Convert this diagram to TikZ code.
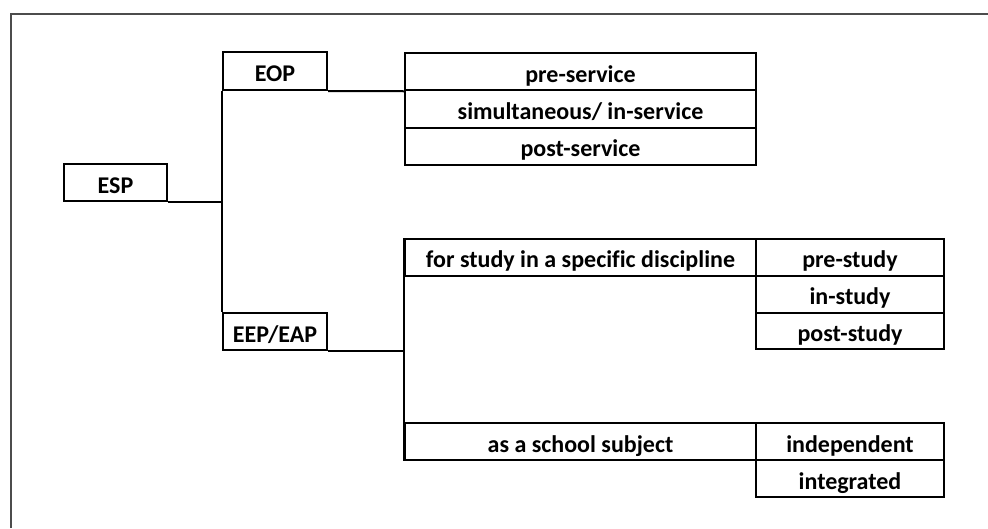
\documentclass[tikz,border=0pt]{standalone}
\usepackage{fontspec}
\setmainfont[Ligatures=NoCommon]{Carlito}
\begin{document}
\begin{tikzpicture}[x=1pt,y=-1pt,
  box/.style={draw=black,line width=2pt,inner sep=0pt,minimum height=37pt,
    text height=21pt,text depth=0pt,font=\fontsize{24}{26}\selectfont\bfseries},
  link/.style={draw=black,line width=2pt}]
\useasboundingbox (0,0) rectangle (988,528);
\draw[line width=2pt,draw=black!70] (11,528) -- (11,14) -- (988,14);
% level 1
\node[box,minimum width=103pt] (esp) at (115.5,182.5) {ESP};
% level 2
\node[box,minimum width=104pt,minimum height=38pt] (eop) at (275,71) {EOP};
\node[box,minimum width=104pt] (eep) at (275,331.5) {EEP/EAP};
% EOP children
\node[box,minimum width=351pt,minimum height=37.3pt] (pre) at (580.5,71.6) {pre-service};
\node[box,minimum width=351pt,minimum height=37.3pt] (sim) at (580.5,108.9) {simultaneous/ in-service};
\node[box,minimum width=351pt,minimum height=37.3pt] (pos) at (580.5,146.2) {post-service};
% EEP children
\node[box,minimum width=351pt,minimum height=36.8pt] (stu) at (580.5,257.4) {for study in a specific discipline};
\node[box,minimum width=188pt,minimum height=36.8pt] (prs) at (850,257.4) {pre-study};
\node[box,minimum width=188pt,minimum height=36.8pt] (ins) at (850,294.2) {in-study};
\node[box,minimum width=188pt,minimum height=36.8pt] (pss) at (850,331.0) {post-study};
\node[box,minimum width=351pt,minimum height=36.8pt] (sch) at (580.5,441.7) {as a school subject};
\node[box,minimum width=188pt,minimum height=36.8pt] (ind) at (850,441.7) {independent};
\node[box,minimum width=188pt,minimum height=36.8pt] (int) at (850,478.5) {integrated};
% connectors
\draw[link] (eop.south west) -- (eep.north west);
\draw[link] (esp.south east) -- (esp.south east -| eop.west);
\draw[link] (eop.south east) -- (pre.south west);
\draw[link] (eep.south east) -- (eep.south east -| stu.west);
\draw[link] (stu.north west) -- (sch.south west);
\end{tikzpicture}
\end{document}
